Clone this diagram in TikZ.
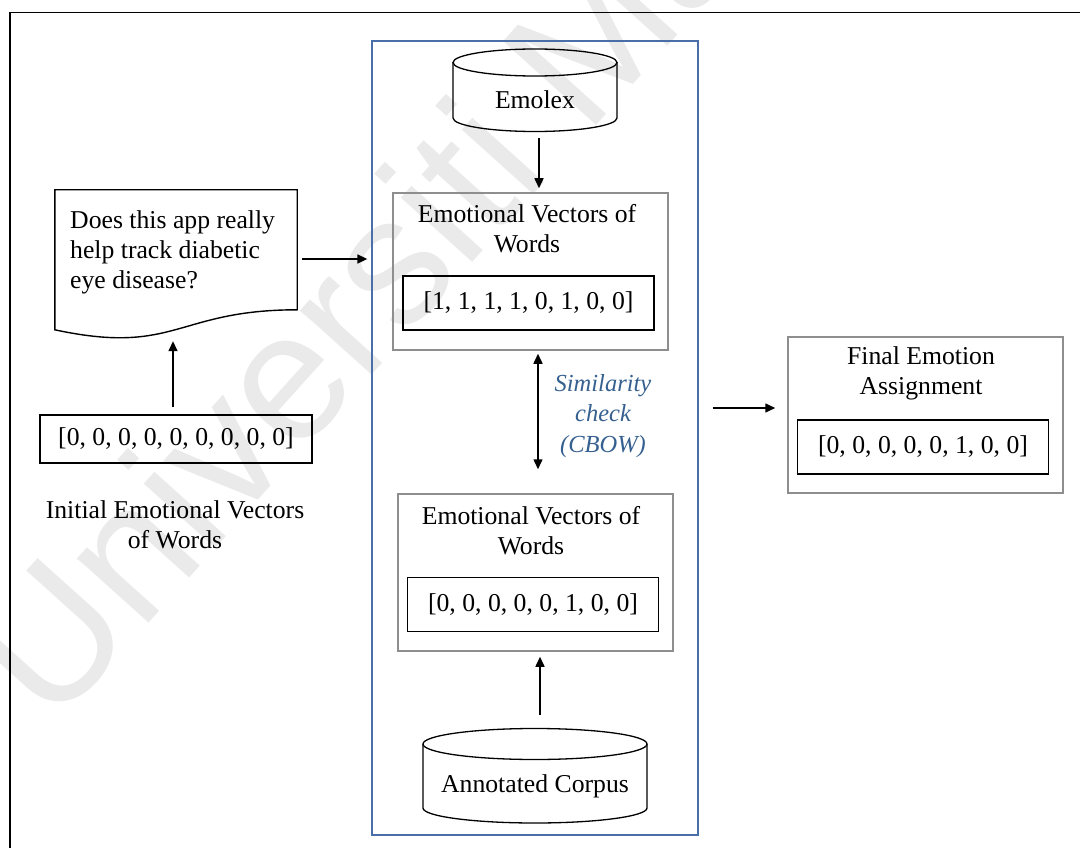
\documentclass[tikz,border=0pt]{standalone}
\usepackage{fontspec}
\setmainfont{Liberation Serif}
\newfontfamily\markfont{Liberation Sans}
\usetikzlibrary{arrows.meta,calc}
\definecolor{framegray}{HTML}{8E8E8E}
\definecolor{panelblue}{HTML}{4A6EA9}
\definecolor{notecolor}{HTML}{35608F}
\definecolor{markgray}{HTML}{EAEAEA}

\begin{document}
\begin{tikzpicture}[x=1pt,y=-1pt,
  every node/.style={font=\fontsize{25.7}{30}\selectfont, inner sep=0pt},
  spot/.style={rectangle, minimum width=#1},
  graybox/.style={rectangle, draw=framegray, line width=1.5pt, minimum width=275, minimum height=157},
  vecbox/.style={rectangle, draw=black, line width=1.6pt, minimum width=251, minimum height=54},
  dbline/.style={line width=1.3pt},
  arr/.style={line width=1.5pt, -{Triangle[length=10pt,width=9pt]}},
  darr/.style={line width=1.5pt, {Triangle[length=10pt,width=9pt]}-{Triangle[length=10pt,width=9pt]}}
]
\useasboundingbox (0,0) rectangle (1080,848);

% faint watermark behind the drawing
\begin{scope}
  \clip (0,0) rectangle (1080,848);
  \node[rotate=48, anchor=base west, text=markgray,
        font=\markfont\fontsize{182}{182}\selectfont] (mark) at (52,730) {Universiti Malaya};
\end{scope}

% page frame
\draw[line width=1.6pt] (1080,12.5) -- (10,12.5) -- (10,848);

% processing panel
\node[rectangle, draw=panelblue, line width=1.3pt, minimum width=326, minimum height=794] (blue) at (535,438) {};

% Emolex store
\node[spot=164, minimum height=83] (emolex) at (535,90.5) {};
\draw[dbline] (535,62.5) ellipse [x radius=82, y radius=13.5];
\draw[dbline] (453,62.5) -- (453,118) arc[start angle=180, end angle=0, x radius=82, y radius=13.5] -- (617,62.5);
\node[anchor=base] (emolext) at (535,109) {Emolex};

% annotated corpus store
\node[spot=224, minimum height=94] (corpus) at (535,776) {};
\draw[dbline] (535,744) ellipse [x radius=112, y radius=15.5];
\draw[dbline] (423,744) -- (423,808) arc[start angle=180, end angle=0, x radius=112, y radius=15] -- (647,744);
\node[anchor=base] (corpust) at (535,792) {Annotated Corpus};

% review sentence (document shape)
\node[spot=242, minimum height=150] (doc) at (176,265) {};
\draw[line width=1.4pt] (doc.north west) -- (doc.north east) -- ($(doc.north east)+(0,120)$)
  .. controls ($(doc.north)+(0,120)$) and ($(doc.north)+(0,166)$) .. ($(doc.north west)+(0,140)$) -- cycle;
\node[anchor=west, align=left] (doct) at (70,252) {Does this app really\\help track diabetic\\eye disease?};

% initial vector
\node[vecbox, minimum width=272, minimum height=48] (init) at (176,439) {[0, 0, 0, 0, 0, 0, 0, 0, 0]};
\node[align=center] (initlbl) at (175,525) {Initial Emotional Vectors\\of Words};

% vectors from the lexicon
\node[graybox] (ev1) at (530.5,271.5) {};
\node[align=center] (ev1t) at (527,229) {Emotional Vectors of\\Words};
\node[vecbox] (ev1v) at (528.5,303) {[1, 1, 1, 1, 0, 1, 0, 0]};

% vectors from the corpus
\node[graybox] (ev2) at (535.5,572.5) {};
\node[align=center] (ev2t) at (531,531) {Emotional Vectors of\\Words};
\node[vecbox] (ev2v) at (533,604.5) {[0, 0, 0, 0, 0, 1, 0, 0]};

% similarity note
\node[align=center, text=notecolor, font=\itshape\fontsize{24.5}{30.5}\selectfont] (sim) at (603,416) {Similarity\\check\\(CBOW)};

% final result
\node[graybox, minimum height=156] (final) at (925.5,415) {};
\node[align=center] (finalt) at (921,373) {Final Emotion\\Assignment};
\node[vecbox] (finalv) at (923,447) {[0, 0, 0, 0, 0, 1, 0, 0]};

% connectors
\draw[arr] ($(emolex.south)+(4,6)$) -- ($(emolex.south |- ev1.north)+(4,-4)$);
\draw[darr] ($(ev1.south)+(7.5,3)$) -- ($(ev1.south |- ev2.north)+(7.5,-24)$);
\draw[arr] ($(corpus.north)+(5,-14)$) -- ($(corpus.north |- ev2.south)+(5,5)$);
\draw[arr] ($(init.north)+(-3,-7)$) -- ($(init.north |- doc.south)+(-3,1)$);
\draw[arr] ($(doc.east)+(5,-6)$) -- ($(doc.east -| blue.west)+(-4,-6)$);
\draw[arr] ($(blue.east)+(14,-30)$) -- ($(blue.east -| final.west)+(-12,-30)$);
\end{tikzpicture}
\end{document}
